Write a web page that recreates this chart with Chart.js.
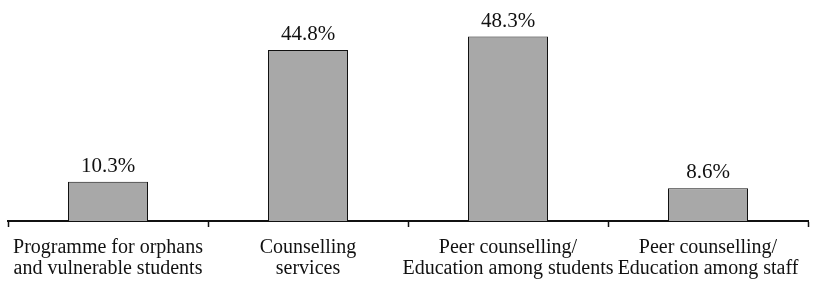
<!DOCTYPE html>
<html>
<head>
<meta charset="utf-8">
<script src="https://cdn.jsdelivr.net/npm/chart.js@4.4.1/dist/chart.umd.min.js"></script>
<style>
  html, body { margin: 0; padding: 0; background: #fff; }
  #wrap { width: 819px; height: 289px; }
</style>
</head>
<body>
<div id="wrap"><canvas id="grafico"></canvas></div>
<script>
var categorias = [
    ["Programme for orphans", "and vulnerable students"],
    ["Counselling", "services"],
    ["Peer counselling/", "Education among students"],
    ["Peer counselling/", "Education among staff"]
];
var valores = [10.3, 44.8, 48.3, 8.6];

var fonte = "Liberation Serif, Times New Roman, serif";

// escreve o valor em cima de cada barra
var rotulos = {
    id: 'rotulos',
    afterDatasetsDraw: function (chart) {
        var ctx = chart.ctx;
        var meta = chart.getDatasetMeta(0);
        ctx.save();
        ctx.font = "21px " + fonte;
        ctx.fillStyle = "#111";
        ctx.textAlign = "center";
        ctx.textBaseline = "alphabetic";
        meta.data.forEach(function (barra, i) {
            ctx.fillText(valores[i].toFixed(1) + "%", barra.x, barra.y - 10);
        });
        ctx.restore();
    }
};

var config = {
    type: 'bar',
    data: {
        labels: categorias,
        datasets: [{
            data: valores,
            backgroundColor: "#a8a8a8",
            borderColor: "#111",
            borderWidth: 1,
            categoryPercentage: 1,
            barPercentage: 0.4
        }]
    },
    options: {
        responsive: true,
        maintainAspectRatio: false,
        animation: false,
        layout: { padding: { top: 11, left: 8, right: 11, bottom: 0 } },
        plugins: {
            legend: { display: false },
            tooltip: { enabled: false }
        },
        scales: {
            y: {
                display: false,
                min: 0,
                max: 55
            },
            x: {
                grid: {
                    offset: true,
                    drawOnChartArea: false,
                    tickLength: 6,
                    tickColor: "#111",
                    tickWidth: 1.5
                },
                border: { color: "#111", width: 2 },
                ticks: {
                    color: "#111",
                    padding: 10,
                    maxRotation: 0,
                    autoSkip: false,
                    font: { family: fonte, size: 20, lineHeight: 1.05 }
                }
            }
        }
    },
    plugins: [rotulos]
};

window.grafico = new Chart(document.getElementById("grafico"), config);
</script>
</body>
</html>
